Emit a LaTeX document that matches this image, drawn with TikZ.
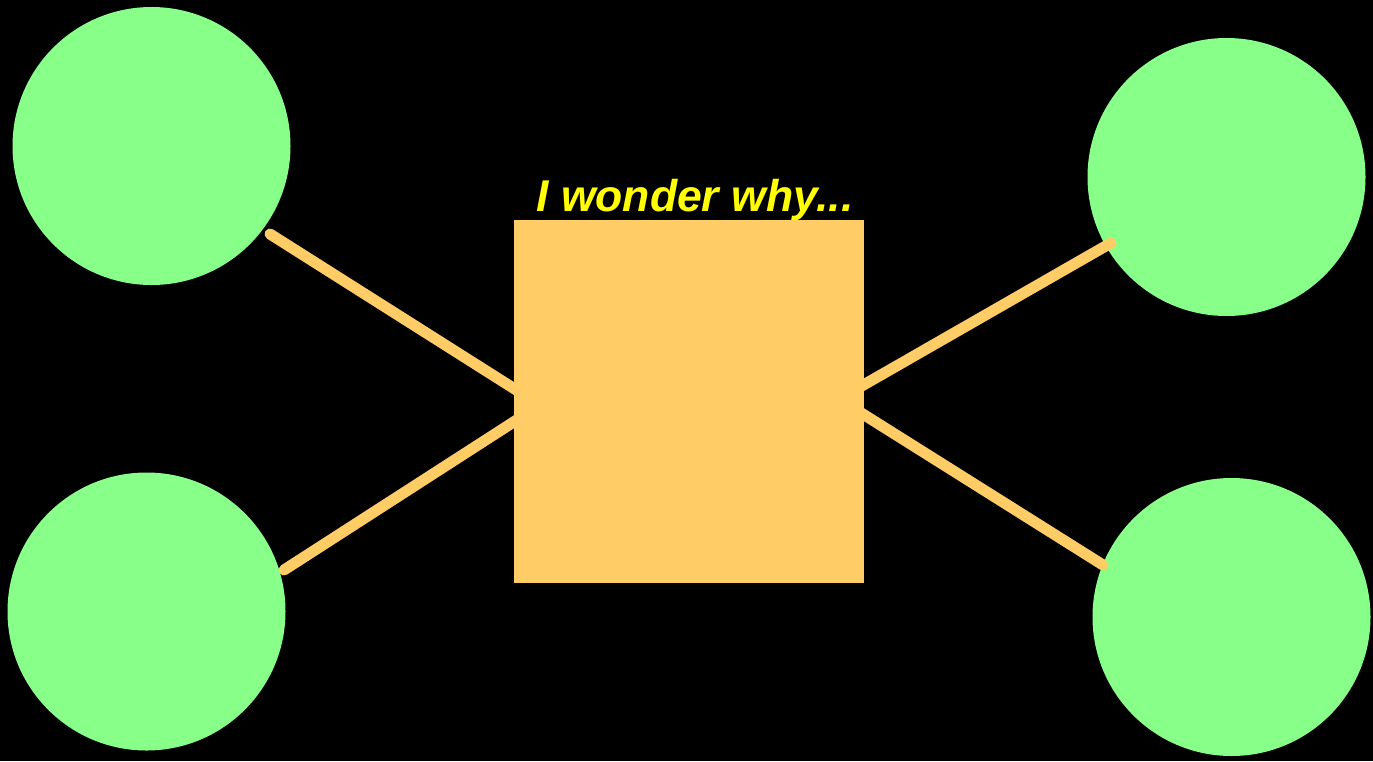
\documentclass[tikz,border=0pt]{standalone}
\usepackage{fontspec}
\setmainfont{Liberation Sans}
\begin{document}
\begin{tikzpicture}[x=1pt,y=-1pt,
  blob/.style={circle,fill=ballgreen,inner sep=0pt,minimum size=278pt},
  link/.style={draw=boxorange,line width=11pt,line cap=round}]
\definecolor{ballgreen}{HTML}{88FF88}
\definecolor{boxorange}{HTML}{FFCC66}
\definecolor{txtyellow}{HTML}{FFFF00}
\fill[black] (0,0) rectangle (1373,761);
\useasboundingbox (0,0) rectangle (1373,761);
\node[blob] (tl) at (151.5,146) {};
\node[blob] (bl) at (146.5,611.5) {};
\node[blob] (tr) at (1226.5,177) {};
\node[blob] (br) at (1231.5,617) {};
\node[fill=boxorange,minimum width=350pt,minimum height=363pt,inner sep=0pt] (box) at (689,401.5) {};
\coordinate (tls) at (270,234);
\coordinate (bls) at (284,570);
\coordinate (trs) at (1111,243);
\coordinate (brs) at (1103,565);
\coordinate (lm) at (540,405);
\coordinate (rm) at (839,399);
\draw[link] (tls) -- (lm);
\draw[link] (bls) -- (lm);
\draw[link] (trs) -- (rm);
\draw[link] (brs) -- (rm);
\node[text=txtyellow,font=\bfseries\itshape\fontsize{44.5}{50}\selectfont,anchor=base] (lbl) at (695,211) {I wonder why...};
\end{tikzpicture}
\end{document}
